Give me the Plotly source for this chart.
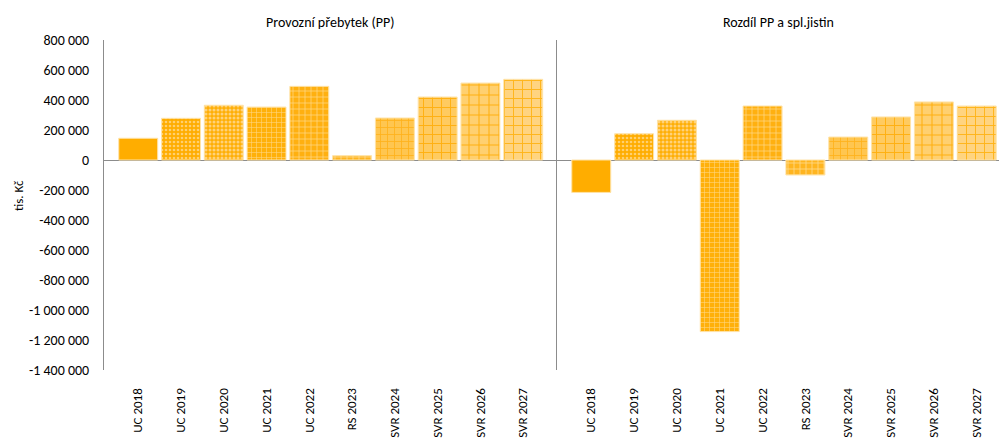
import plotly.graph_objects as go

categories = ["UC 2018", "UC 2019", "UC 2020", "UC 2021", "UC 2022",
              "RS 2023", "SVR 2024", "SVR 2025", "SVR 2026", "SVR 2027"]
pp_values = [145000, 278000, 365000, 353000, 491000,
             29000, 280000, 420000, 513000, 538000]
rozdil_values = [-216000, 175000, 265000, -1144000, 360000,
                 -100000, 153000, 287000, 387000, 360000]
y_ticks = [800000, 600000, 400000, 200000, 0, -200000, -400000,
           -600000, -800000, -1000000, -1200000, -1400000]
y_ticklabels = ["800 000", "600 000", "400 000", "200 000", "0", "-200 000",
                "-400 000", "-600 000", "-800 000", "-1 000 000",
                "-1 200 000", "-1 400 000"]
title_left = "Provozní přebytek (PP)"
title_right = "Rozdíl PP a spl.jistin"
y_title = "tis. Kč"

# per-category pattern styling (Excel-like pattern fills, progressively lighter)
shapes = ["", ".", ".", "+", "+", "+", "+", "+", "+", "+"]
bgcols = ["#FFAD00", "#FFAD00", "#FFAF05", "#FFB00A", "#FFB010",
          "#FFB520", "#FFC650", "#FFCB60", "#FFD070", "#FFD480"]
fgcols = ["#FFAD00", "#FFD070", "#FFD27A", "#FFD582", "#FFD888",
          "#FFDA8C", "#FFB21A", "#FFB010", "#FFB010", "#FFB418"]
sizes = [6, 4, 4, 5, 6, 6, 7, 9, 10, 9]
solid = [0.3, 0.35, 0.45, 0.22, 0.22, 0.25, 0.22, 0.2, 0.2, 0.2]

FONT = "Carlito, Calibri, Lato, 'Liberation Sans', sans-serif"
W, H = 999, 439
ML, MR, MT, MB = 0, 0, 40, 69
PH = H - MT - MB

fig = go.Figure()
for values, xa, ya in [(pp_values, "x", "y"), (rozdil_values, "x2", "y2")]:
    for i, cat in enumerate(categories):
        pattern = dict(shape=shapes[i], fgcolor=fgcols[i], fgopacity=1,
                       size=sizes[i], solidity=solid[i], fillmode="overlay")
        fig.add_trace(go.Bar(
            x=[cat], y=[values[i]], xaxis=xa, yaxis=ya,
            marker=dict(color=bgcols[i],
                        line=dict(color="#FFE3A8", width=1),
                        pattern=pattern),
            showlegend=False, hoverinfo="skip",
        ))

xcommon = dict(type="category", categoryorder="array", categoryarray=categories,
               tickangle=-90, showgrid=False, showline=False,
               zeroline=False, ticks="outside", ticklen=12,
               tickcolor="rgba(0,0,0,0)",
               tickfont=dict(family=FONT, size=13, color="#000000"))
ycommon = dict(range=[-1400000, 800000], tickvals=y_ticks, showgrid=False,
               showline=True, linecolor="#8C8C8C", linewidth=1,
               zeroline=True, zerolinecolor="#8C8C8C", zerolinewidth=1)

fig.update_layout(
    width=W, height=H,
    margin=dict(l=ML, r=MR, t=MT, b=MB, autoexpand=False),
    plot_bgcolor="white", paper_bgcolor="white",
    barmode="overlay", bargap=0.09,
    xaxis=dict(domain=[104 / W, 557 / W], range=[-0.8, 9.79], anchor="y",
               **xcommon),
    xaxis2=dict(domain=[557 / W, 1.0], range=[-0.8, 9.52], anchor="y2",
                **xcommon),
    yaxis=dict(anchor="x", ticktext=y_ticklabels, showticklabels=True,
               ticks="outside", ticklen=11, tickcolor="rgba(0,0,0,0)",
               tickfont=dict(family=FONT, size=14, color="#000000"),
               **ycommon),
    yaxis2=dict(anchor="x2", showticklabels=False, ticks="", **ycommon),
    annotations=[
        dict(text=title_left, x=(104 + 557) / 2 / W, y=(PH + MT - 22) / PH,
             xref="paper", yref="paper", showarrow=False,
             xanchor="center", yanchor="middle",
             font=dict(family=FONT, size=14, color="#000000")),
        dict(text=title_right, x=(557 + 999) / 2 / W, y=(PH + MT - 22) / PH,
             xref="paper", yref="paper", showarrow=False,
             xanchor="center", yanchor="middle",
             font=dict(family=FONT, size=14, color="#000000")),
        dict(text=y_title, x=18 / W, y=(MT + PH - 196) / PH, textangle=-90,
             xref="paper", yref="paper", showarrow=False,
             xanchor="center", yanchor="middle",
             font=dict(family=FONT, size=13, color="#000000")),
    ],
)

fig.write_html("out.html", config={"displayModeBar": False},
               post_script="document.body.style.margin='0';"
                           "document.documentElement.style.overflow='hidden';")
